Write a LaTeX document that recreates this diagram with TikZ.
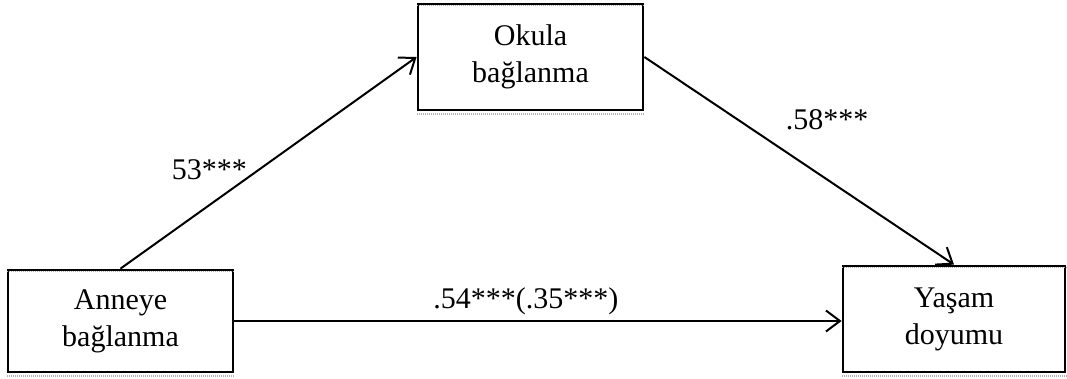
\documentclass[tikz,border=0pt]{standalone}
\usepackage{fontspec}
\setmainfont{Liberation Serif}
\usetikzlibrary{positioning,arrows.meta}
\tikzset{var/.style={draw,line width=2.8pt,inner sep=0pt,align=center,
    font=\fontsize{30}{37}\selectfont},
  rim/.style={draw=gray!60,line width=1.2pt,dash pattern=on 1.2pt off 0.8pt},
  lbl/.style={inner sep=0pt,font=\fontsize{30}{37}\selectfont}}
\newcommand{\newVar}[5]{\node[var,minimum width=#4,minimum height=#5](#1) at (#3) {#2};
  \draw[rim] ([yshift=-3pt]#1.north west) -- ([yshift=-3pt]#1.north east);
  \draw[rim] ([yshift=-2.5pt]#1.south west) -- ([yshift=-2.5pt]#1.south east);}
\newcommand{\newPath}[4]{\draw[->] (#1) -- node[lbl,#4] {#3} (#2);}
\begin{document}
\begin{tikzpicture}[x=1pt,y=-1pt,
  >={Straight Barb[length=14pt,width=21pt,line width=2pt]},
  line width=2pt  %thin arrows
  ]
  \useasboundingbox (0,0) rectangle (1067,378);
  \newVar{anneye}{Anneye\\bağlanma}{120.5,321}{225pt}{102pt}
  \newVar{okula}{Okula\\bağlanma}{530.5,57}{225pt}{106pt}
  \newVar{yasam}{Yaşam\\doyumu}{954,319}{222pt}{106pt}
  \newPath{anneye.north}{okula.west}{53***}{name=a,pos=.42,anchor=base east,xshift=3pt}
  \newPath{okula.east}{yasam.north}{.58***}{name=b,pos=.35,anchor=base west,xshift=32pt}
  \newPath{anneye.east}{anneye.east -| yasam.west}{.54***(.35***)}{name=c,pos=.48,anchor=base,yshift=13pt}
\end{tikzpicture}
\end{document}
